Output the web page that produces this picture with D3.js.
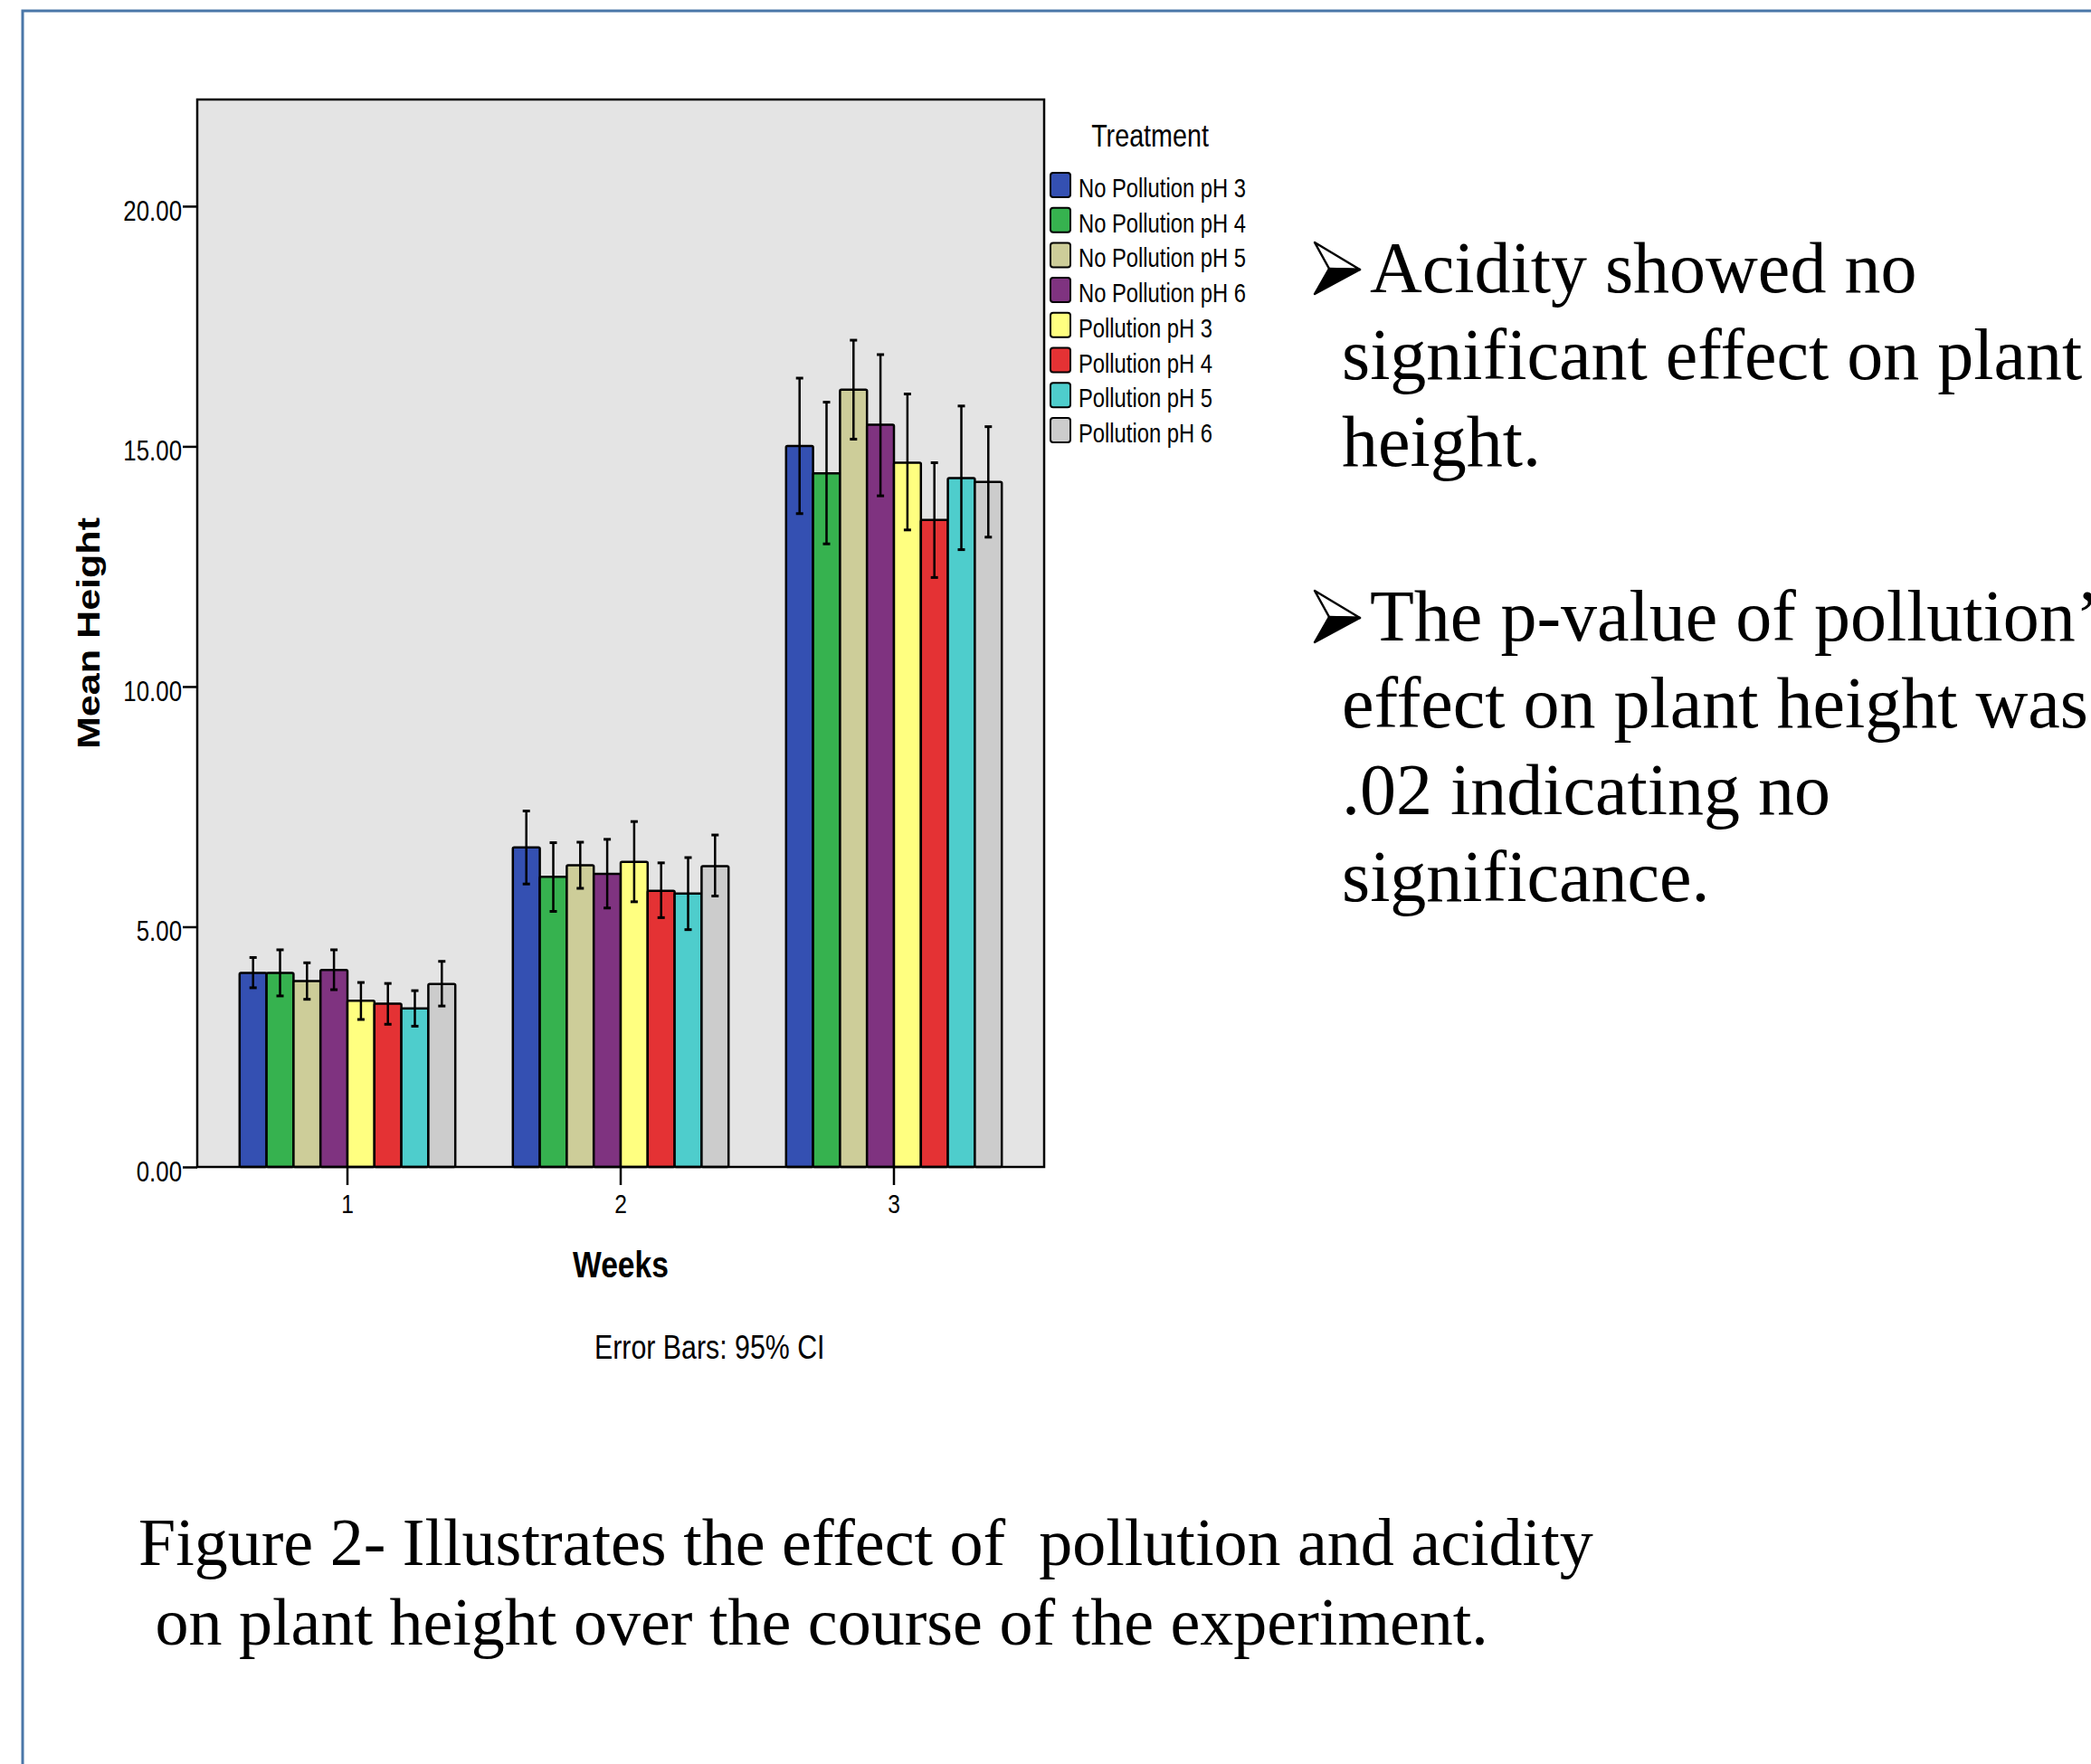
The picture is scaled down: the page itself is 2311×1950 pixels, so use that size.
<!DOCTYPE html>
<html>
<head>
<meta charset="utf-8">
<script src="https://cdn.jsdelivr.net/npm/d3@7"></script>
<style>
  html, body { margin: 0; padding: 0; background: #ffffff; }
  svg { display: block; }
  text { white-space: pre; }
</style>
</head>
<body>
<svg id="chart" width="2311" height="1950"></svg>
<script>
// Weeks on the x axis
const weeks = ["1", "2", "3"];

// Treatment groups, in legend / bar order
const treatments = [
  "No Pollution pH 3", "No Pollution pH 4", "No Pollution pH 5", "No Pollution pH 6",
  "Pollution pH 3", "Pollution pH 4", "Pollution pH 5", "Pollution pH 6"
];
const treatmentColors = [
  "#3450b2", "#36b24f", "#cdcd99", "#7f3380",
  "#ffff80", "#e43234", "#4ecdcc", "#cccccc"
];

// Mean height per treatment, one array per week
const week1Mean = [4.04, 4.04, 3.87, 4.10, 3.46, 3.40, 3.30, 3.81];
const week2Mean = [6.65, 6.04, 6.28, 6.10, 6.35, 5.75, 5.69, 6.26];
const week3Mean = [15.01, 14.44, 16.18, 15.45, 14.66, 13.47, 14.34, 14.26];

// 95% confidence interval bounds
const week1Low  = [3.73, 3.56, 3.49, 3.69, 3.07, 2.97, 2.93, 3.35];
const week1High = [4.36, 4.52, 4.25, 4.52, 3.84, 3.82, 3.67, 4.28];
const week2Low  = [5.89, 5.32, 5.80, 5.39, 5.52, 5.19, 4.94, 5.64];
const week2High = [7.41, 6.75, 6.76, 6.82, 7.19, 6.33, 6.44, 6.91];
const week3Low  = [13.60, 12.97, 15.15, 13.97, 13.26, 12.27, 12.85, 13.11];
const week3High = [16.42, 15.92, 17.21, 16.91, 16.09, 14.66, 15.84, 15.41];

const yTicks = [0, 5, 10, 15, 20];

// Side notes and caption
const noteLines1 = ["Acidity showed no", "significant effect on plant", "height."];
const noteLines2 = ["The p-value of pollution\u2019s", "effect on plant height was", ".02 indicating no", "significance."];
const captionLines = ["Figure 2- Illustrates the effect of  pollution and acidity", " on plant height over the course of the experiment."];

// Assemble rows for drawing
const means = [week1Mean, week2Mean, week3Mean];
const lows = [week1Low, week2Low, week3Low];
const highs = [week1High, week2High, week3High];
const rows = [];
weeks.forEach((w, wi) => {
  treatments.forEach((t, ti) => {
    rows.push({ week: w, treatment: t, mean: means[wi][ti], low: lows[wi][ti], high: highs[wi][ti], color: treatmentColors[ti] });
  });
});

const svg = d3.select("#chart");
const SANS = "'Liberation Sans', Arial, sans-serif";
const SERIF = "'Liberation Serif', 'Times New Roman', serif";
const NARROW = 0.82;

// Squeeze text horizontally to get a condensed sans look
function narrowText(parent, x, y, str, size, opts = {}) {
  const g = parent.append("g").attr("transform", `translate(${x},${y}) scale(${NARROW},1)`);
  return g.append("text")
    .attr("x", 0).attr("y", 0)
    .attr("font-family", SANS)
    .attr("font-size", size)
    .attr("font-weight", opts.weight || "normal")
    .attr("text-anchor", opts.anchor || "start")
    .attr("fill", "#000")
    .text(str);
}

// Slide frame
svg.append("rect")
  .attr("x", 25).attr("y", 12)
  .attr("width", 2400).attr("height", 2100)
  .attr("fill", "none")
  .attr("stroke", "#4a77a8")
  .attr("stroke-width", 3);

// Plot area
const plot = { left: 218, right: 1154, top: 110, bottom: 1290 };

const y = d3.scaleLinear()
  .domain([0, 22.22])
  .range([plot.bottom, plot.top]);

const x0 = d3.scaleBand()
  .domain(weeks)
  .range([plot.left, plot.right])
  .paddingInner(0.2106)
  .paddingOuter(0.155);

const x1 = d3.scaleBand()
  .domain(treatments)
  .range([0, x0.bandwidth()])
  .padding(0);

svg.append("rect")
  .attr("x", plot.left).attr("y", plot.top)
  .attr("width", plot.right - plot.left)
  .attr("height", plot.bottom - plot.top)
  .attr("fill", "#e4e4e4");

// Bars
const barG = svg.append("g");
barG.selectAll("rect")
  .data(rows)
  .join("rect")
  .attr("x", d => x0(d.week) + x1(d.treatment))
  .attr("y", d => y(d.mean))
  .attr("width", x1.bandwidth())
  .attr("height", d => y(0) - y(d.mean))
  .attr("rx", 1.5)
  .attr("fill", d => d.color)
  .attr("stroke", "#000")
  .attr("stroke-width", 2.5);

// Error bars (95% CI)
const errG = svg.append("g").attr("stroke", "#000").attr("stroke-width", 2.5);
const capHalf = 4;
rows.forEach(d => {
  const cx = x0(d.week) + x1(d.treatment) + x1.bandwidth() / 2;
  errG.append("line").attr("x1", cx).attr("x2", cx).attr("y1", y(d.low)).attr("y2", y(d.high));
  errG.append("line").attr("x1", cx - capHalf).attr("x2", cx + capHalf).attr("y1", y(d.high)).attr("y2", y(d.high)).attr("stroke-width", 3);
  errG.append("line").attr("x1", cx - capHalf).attr("x2", cx + capHalf).attr("y1", y(d.low)).attr("y2", y(d.low)).attr("stroke-width", 3);
});

// Plot border on top of bars
svg.append("rect")
  .attr("x", plot.left).attr("y", plot.top)
  .attr("width", plot.right - plot.left)
  .attr("height", plot.bottom - plot.top)
  .attr("fill", "none")
  .attr("stroke", "#000")
  .attr("stroke-width", 2.5);

// Y axis
const yAxisG = svg.append("g")
  .attr("transform", `translate(${plot.left},0)`)
  .call(d3.axisLeft(y).tickValues(yTicks).tickFormat(d3.format(".2f")).tickSize(16).tickPadding(1));
yAxisG.select(".domain").remove();
yAxisG.selectAll(".tick line").attr("stroke", "#000").attr("stroke-width", 2.5);
yAxisG.selectAll(".tick text")
  .attr("font-family", SANS)
  .attr("font-size", 31.5)
  .attr("fill", "#000")
  .attr("dy", "0.49em")
  .each(function () {
    const t = d3.select(this);
    t.attr("x", +t.attr("x") / NARROW).attr("transform", `scale(${NARROW},1)`);
  });

// X axis
const xAxisG = svg.append("g")
  .attr("transform", `translate(0,${plot.bottom})`)
  .call(d3.axisBottom(x0).tickSize(20).tickPadding(10));
xAxisG.select(".domain").remove();
xAxisG.selectAll(".tick line").attr("stroke", "#000").attr("stroke-width", 2.5);
xAxisG.selectAll(".tick text")
  .attr("font-family", SANS)
  .attr("font-size", 30)
  .attr("fill", "#000")
  .attr("transform", `scale(${NARROW},1)`);

// Axis titles
narrowText(svg, 686, 1412, "Weeks", 41, { anchor: "middle", weight: "bold" });
svg.append("text")
  .attr("transform", "translate(110,700) rotate(-90)")
  .attr("font-family", SANS)
  .attr("font-size", 35)
  .attr("font-weight", "bold")
  .attr("text-anchor", "middle")
  .attr("textLength", 256)
  .attr("lengthAdjust", "spacingAndGlyphs")
  .attr("fill", "#000")
  .text("Mean Height");

narrowText(svg, 657, 1502, "Error Bars: 95% CI", 37);

// Legend
narrowText(svg, 1271, 162, "Treatment", 35, { anchor: "middle" });
const legend = svg.append("g");
treatments.forEach((t, i) => {
  const top = 191 + i * 38.7;
  legend.append("rect")
    .attr("x", 1161).attr("y", top)
    .attr("width", 22).attr("height", 27)
    .attr("rx", 3)
    .attr("fill", treatmentColors[i])
    .attr("stroke", "#000")
    .attr("stroke-width", 2);
  narrowText(legend, 1192, top + 27, t, 29);
});

// Arrowhead bullet marker
function bullet(x, top) {
  const g = svg.append("g").attr("transform", `translate(${x},${top})`);
  g.append("path").attr("d", "M0,0 L50,30 L16,29 Z").attr("fill", "#ffffff").attr("stroke", "#000").attr("stroke-width", 2.5).attr("stroke-linejoin", "round");
  g.append("path").attr("d", "M16,29 L50,30 L0,57 Z").attr("fill", "#000").attr("stroke", "#000").attr("stroke-width", 2.5).attr("stroke-linejoin", "round");
}

// Notes on the right
const noteBase1 = 323, noteBase2 = 708, lineGap = 96;
bullet(1453, noteBase1 - 55);
bullet(1453, noteBase2 - 55);
function noteText(lines, base) {
  lines.forEach((ln, i) => {
    svg.append("text")
      .attr("x", i === 0 ? 1514 : 1483)
      .attr("y", base + i * lineGap)
      .attr("font-family", SERIF)
      .attr("font-size", 80)
      .attr("fill", "#000")
      .text(ln);
  });
}
noteText(noteLines1, noteBase1);
noteText(noteLines2, noteBase2);

// Caption
captionLines.forEach((ln, i) => {
  svg.append("text")
    .attr("x", 153 - (i === 1 ? 0 : 0))
    .attr("y", 1730 + i * 88)
    .attr("font-family", SERIF)
    .attr("font-size", 74)
    .attr("fill", "#000")
    .text(ln);
});
</script>
</body>
</html>
